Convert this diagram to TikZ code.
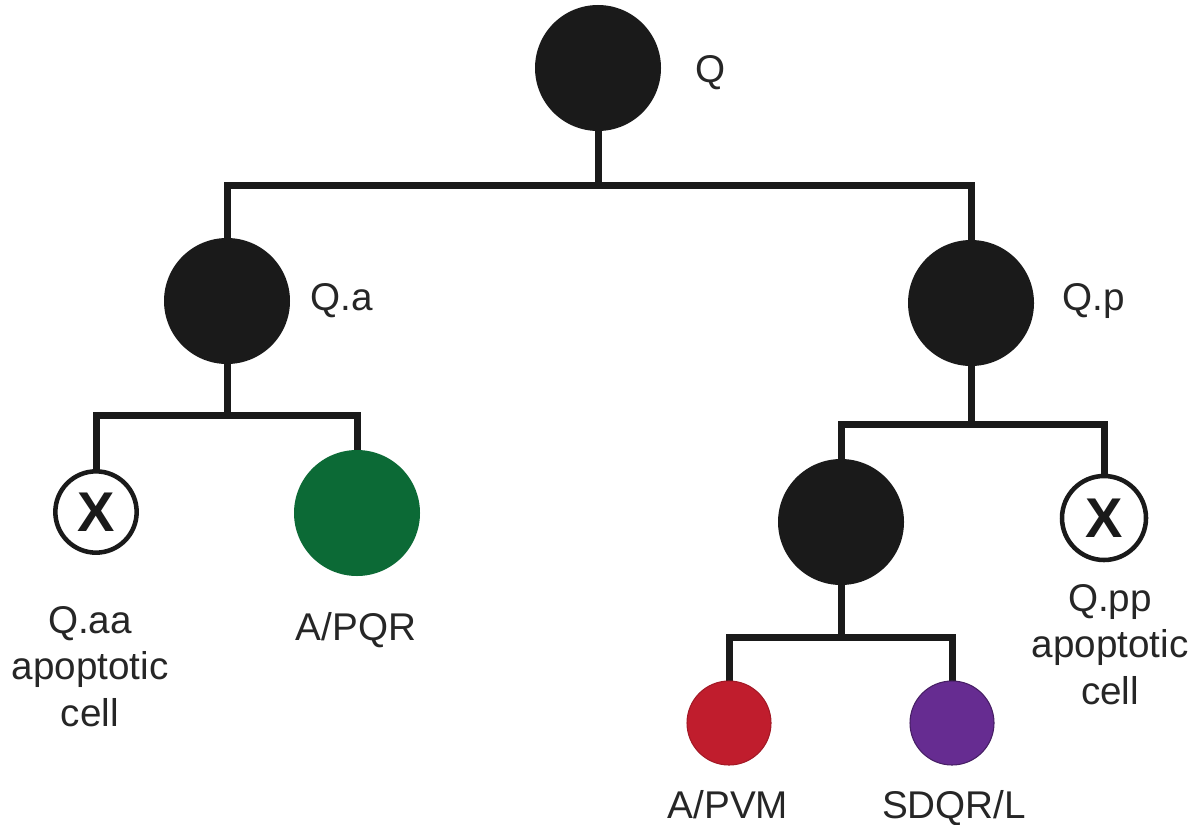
\documentclass[tikz,border=0pt]{standalone}
\usepackage{fontspec}
\setmainfont{Liberation Sans}
\definecolor{cellblack}{HTML}{1A1A1A}
\definecolor{textgray}{HTML}{262626}
\definecolor{pqrgreen}{HTML}{0C6A36}
\definecolor{pvmred}{HTML}{C01D2D}
\definecolor{sdqpurple}{HTML}{662C91}
\pgfdeclarelayer{background}
\pgfsetlayers{background,main}
\begin{document}
\begin{tikzpicture}[x=0.75pt,y=-0.75pt,
  conn/.style={line width=5.25pt, draw=cellblack, line join=miter},
  big/.style={circle, minimum size=94.5pt, inner sep=0pt, fill=cellblack},
  small/.style={circle, minimum size=63pt, inner sep=0pt, line width=0.8pt},
  dead/.style={circle, minimum size=61pt, inner sep=0pt, draw=cellblack, line width=3.4pt, fill=white, text=cellblack, font=\fontsize{42}{42}\selectfont\bfseries},
  lab/.style={font=\fontsize{29}{35}\selectfont, inner sep=0pt, text=textgray, align=center}]
\useasboundingbox (0,0) rectangle (1201,824);
% cells
\node[big] (Q) at (598,68) {};
\node[big] (Qa) at (227,301) {};
\node[big] (Qp) at (971,303) {};
\node[dead] (Qaa) at (96,512) {X};
\node[big, fill=pqrgreen] (PQR) at (357,513) {};
\node[big] (Qpa) at (841,522) {};
\node[dead, minimum size=63pt] (Qpp) at (1104,518) {X};
\node[small, fill=pvmred, draw=pvmred!85!black] (PVM) at (729,723) {};
\node[small, fill=sdqpurple, draw=sdqpurple!70!black] (SDQ) at (952,723) {};
% branch points
\coordinate (b1) at (598,185);
\coordinate (b2) at (227,415);
\coordinate (b3) at (971,424);
\coordinate (b4) at (841,637);
% connectors
\begin{pgfonlayer}{background}
\draw[conn] (Q.center) -- (b1);
\draw[conn] (Qa.center) |- (b1) -| (Qp.center);
\draw[conn] (Qa.center) -- (b2);
\draw[conn] (Qaa.center) |- (b2) -| (PQR.center);
\draw[conn] (Qp.center) -- (b3);
\draw[conn] (Qpa.center) |- (b3) -| (Qpp.center);
\draw[conn] (Qpa.center) -- (b4);
\draw[conn] (PVM.center) |- (b4) -| (SDQ.center);
\end{pgfonlayer}
% labels
\node[lab, anchor=base west] (lQ) at (695,83) {Q};
\node[lab, anchor=base west] (lQa) at (310,310) {Q.a};
\node[lab, anchor=base west] (lQp) at (1062,310) {Q.p};
\node[lab, anchor=north] (lQaa) at (90,606) {Q.aa\\apoptotic\\cell};
\node[lab, anchor=north] (lQpp) at (1110,584) {Q.pp\\apoptotic\\cell};
\node[lab, anchor=base] (lPQR) at (356,640) {A/PQR};
\node[lab, anchor=base] (lPVM) at (728,818) {A/PVM};
\node[lab, anchor=base] (lSDQ) at (954,818) {SDQR/L};
\end{tikzpicture}
\end{document}
